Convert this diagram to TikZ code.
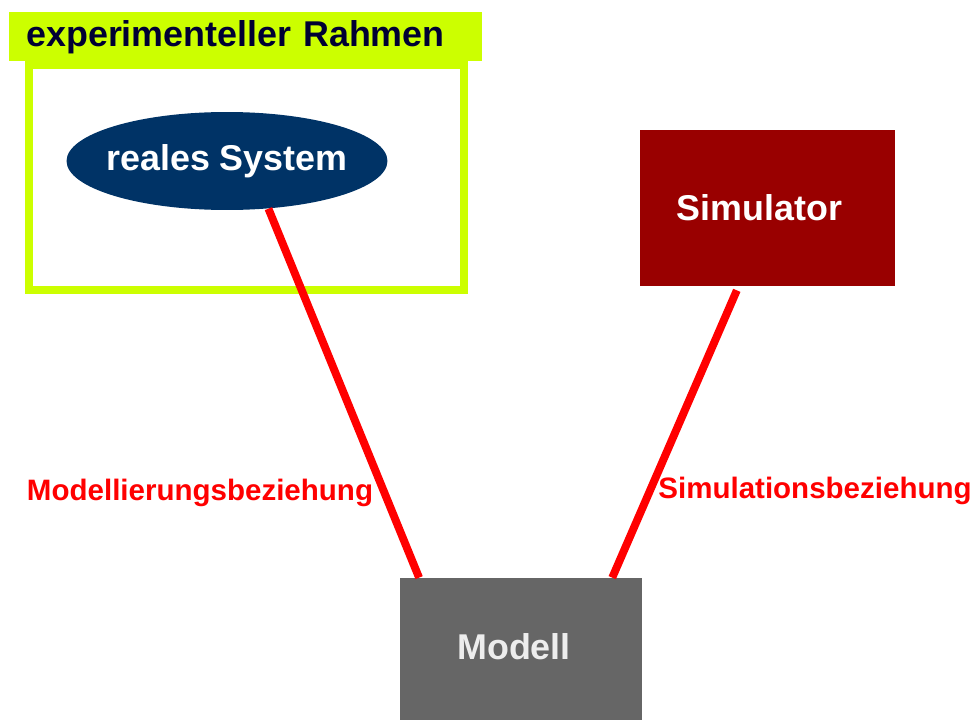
\documentclass[tikz,border=0pt]{standalone}
\usepackage{fontspec}
\setmainfont{Liberation Sans}
\usetikzlibrary{shapes.geometric,calc}
\definecolor{lime}{HTML}{CCFF00}
\definecolor{navy}{HTML}{003366}
\definecolor{darkred}{HTML}{990000}
\definecolor{modgray}{HTML}{666666}
\definecolor{hdrtext}{HTML}{000033}
\begin{document}
\begin{tikzpicture}[x=0.02cm, y=-0.02cm,
    bigfont/.style={font=\fontsize{20.4}{24}\selectfont\bfseries},
    labfont/.style={font=\fontsize{16.8}{20}\selectfont\bfseries, text=red},
    relation/.style={red, line width=4.5pt}]
  \clip (0,0) rectangle (978,720);
  % Experimental frame
  \node[draw=lime, line width=4.5pt, minimum width=8.7cm, minimum height=4.5cm,
        inner sep=0pt] (frame) at (246.5,177.5) {};
  \node[fill=lime, anchor=north west, text width=8.78cm, inner xsep=0.34cm,
        minimum height=0.98cm, align=left, bigfont, text=hdrtext] (hdr) at (9,12)
        {experimenteller Rahmen};
  % Blocks
  \node[ellipse, fill=navy, minimum width=6.42cm, minimum height=1.96cm,
        inner xsep=-0.15cm, inner ysep=0pt, bigfont, text=white] (sys) at (227,161)
        {reales System};
  \node[fill=darkred, minimum width=5.1cm, minimum height=3.12cm,
        inner sep=0pt, bigfont, text=white] (sim) at (767.5,208)
        {Simulator\kern0.32cm};
  \node[fill=modgray, minimum width=4.84cm, minimum height=2.84cm,
        inner sep=0pt, bigfont, text=white!93!black] (mod) at (521,649)
        {\raisebox{0.1cm}{Modell}\kern0.28cm};
  % Relations
  \draw[relation] (sys.-49) -- ($(mod.north west)!0.08!(mod.north east)$);
  \draw[relation] ($(sim.south west)!0.38!(sim.south east)+(0,4)$)
    -- ($(mod.north west)!0.876!(mod.north east)$);
  % Relation labels
  \node[labfont] (lmod) at (200,493) {Modellierungsbeziehung};
  \node[labfont] (lsim) at (815,491) {Simulationsbeziehung};
\end{tikzpicture}
\end{document}
